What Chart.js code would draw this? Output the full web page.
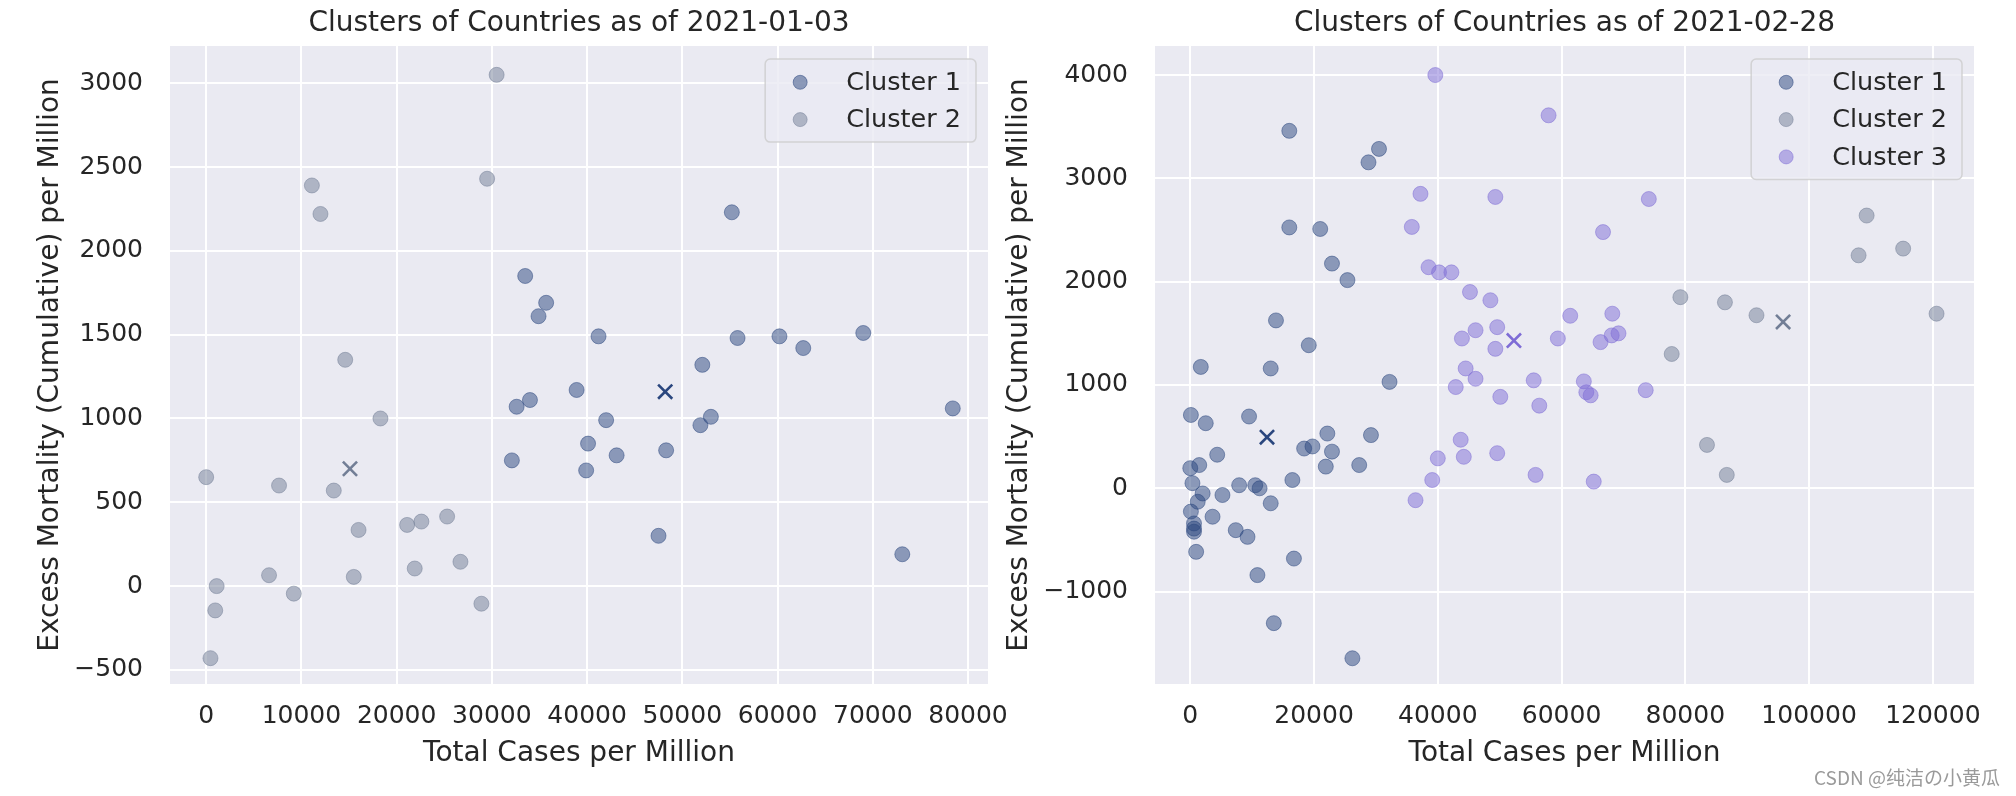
<!DOCTYPE html>
<html>
<head>
<meta charset="utf-8">
<script src="https://cdn.jsdelivr.net/npm/chart.js@4.4.0/dist/chart.umd.min.js"></script>
<style>
body { margin: 0; background: #fff; width: 2016px; height: 796px; position: relative; overflow: hidden; }
#left { position: absolute; left: 0; top: 0; }
#right { position: absolute; left: 1000px; top: 0; }
#mark { position: absolute; right: 16px; top: 763px; font: 19px "Noto Sans CJK SC"; color: #9a9a9a; }
</style>
</head>
<body>
<canvas id="left" width="1016" height="796"></canvas>
<canvas id="right" width="1016" height="796"></canvas>
<div id="mark">CSDN @纯洁の小黄瓜</div>
<script>
// 2021-01-03 clusters
let janC1x = [55200, 33500, 35700, 34900, 41200, 55800, 60200, 62700, 69000, 52100, 38900, 34000, 32600, 78400, 42000, 53000, 51900, 40100, 43100, 48300, 32100, 39900, 47500, 73100];
let janC1y = [2230, 1850, 1690, 1610, 1490, 1480, 1490, 1420, 1510, 1320, 1170, 1110, 1070, 1060, 990, 1010, 960, 850, 780, 810, 750, 690, 300, 190];
let janC2x = [30500, 11100, 12000, 29500, 14600, 18300, 0, 7650, 13400, 16000, 21100, 22600, 25300, 21900, 26700, 6600, 15500, 1100, 9200, 950, 28900, 450];
let janC2y = [3050, 2390, 2220, 2430, 1350, 1000, 650, 600, 570, 335, 365, 385, 415, 105, 145, 65, 55, 0, -45, -145, -105, -430];
let janCentX = [48200, 15100];
let janCentY = [1160, 700];
let janXTicks = [0, 10000, 20000, 30000, 40000, 50000, 60000, 70000, 80000];
let janYTicks = [-500, 0, 500, 1000, 1500, 2000, 2500, 3000];

// 2021-02-28 clusters
let febC1x = [16000, 30500, 28800, 16000, 21000, 22900, 25400, 13850, 19150, 1700, 13000, 32200, 100, 2500, 9500, 22150, 29200, 4350, 18400, 19750, 22900, 0, 1450, 21900, 27300, 350, 7900, 10500, 11200, 16500, 2000, 5200, 1200, 13000, 100, 3600, 600, 600, 600, 7350, 9250, 950, 16750, 10850, 13500, 26200];
let febC1y = [3460, 3285, 3155, 2525, 2510, 2175, 2015, 1625, 1385, 1175, 1160, 1030, 710, 630, 695, 530, 515, 325, 385, 405, 355, 195, 225, 210, 225, 50, 30, 30, 0, 80, -50, -65, -130, -145, -225, -275, -340, -390, -420, -405, -470, -615, -680, -840, -1305, -1645];
let febC2x = [109300, 115200, 108000, 79200, 86400, 91500, 120600, 77800, 83500, 86700];
let febC2y = [2640, 2320, 2255, 1850, 1800, 1675, 1690, 1300, 420, 130];
let febC3x = [39600, 57900, 37200, 49300, 74100, 35800, 66700, 38500, 40200, 42200, 45200, 48500, 61400, 68200, 46100, 49600, 43900, 49300, 59400, 66300, 68100, 69200, 44500, 46100, 42900, 55500, 63600, 64000, 64700, 73600, 50100, 56400, 43700, 40000, 44200, 49600, 39100, 55800, 65200, 36400];
let febC3y = [4000, 3610, 2850, 2820, 2800, 2530, 2480, 2140, 2090, 2090, 1900, 1820, 1670, 1690, 1530, 1560, 1450, 1350, 1450, 1415, 1480, 1500, 1160, 1060, 980, 1045, 1035, 930, 900, 950, 885, 800, 470, 290, 305, 340, 80, 130, 65, -115];
let febCentX = [12400, 95800, 52300];
let febCentY = [495, 1610, 1430];
let febXTicks = [0, 20000, 40000, 60000, 80000, 100000, 120000];
let febYTicks = [-1000, 0, 1000, 2000, 3000, 4000];

let clusterNames = ['Cluster 1', 'Cluster 2', 'Cluster 3'];
let clusterRgb = ['42,70,126', '114,126,150', '126,108,214'];

let textColor = '#262626';
Chart.defaults.font.family = 'DejaVu Sans';
Chart.defaults.font.size = 25;
Chart.defaults.color = textColor;

function toPoints(xs, ys) {
    return xs.map((x, i) => ({x: x, y: ys[i]}));
}

function fmt(v) {
    return v < 0 ? '\u2212' + Math.abs(v) : String(v);
}

let areaBg = {
    id: 'areaBg',
    beforeDraw(chart) {
        let {ctx, chartArea: a} = chart;
        ctx.save();
        ctx.fillStyle = '#EAEAF2';
        ctx.fillRect(a.left, a.top, a.width, a.height);
        ctx.restore();
    }
};

let areaTitle = {
    id: 'areaTitle',
    afterDraw(chart, args, opts) {
        let {ctx, chartArea: a} = chart;
        ctx.save();
        ctx.font = '28px "DejaVu Sans"';
        ctx.fillStyle = textColor;
        ctx.textAlign = 'center';
        ctx.textBaseline = 'middle';
        ctx.fillText(opts.text, (a.left + a.right) / 2, 24);
        ctx.restore();
    }
};

let innerLegend = {
    id: 'innerLegend',
    afterDatasetsDraw(chart) {
        let {ctx, chartArea: a} = chart;
        let sets = chart.data.datasets.filter(d => !d.centroid);
        ctx.save();
        ctx.font = '25.5px "DejaVu Sans"';
        let tw = Math.max(...sets.map(d => ctx.measureText(d.label).width));
        let w = 81 + tw + 15;
        let h = 8.5 + 37.3 * sets.length;
        let x0 = a.right - 12 - w;
        let y0 = a.top + 13;
        ctx.beginPath();
        ctx.roundRect(x0, y0, w, h, 5);
        ctx.fillStyle = 'rgba(234,234,242,0.8)';
        ctx.fill();
        ctx.strokeStyle = 'rgba(204,204,204,0.8)';
        ctx.lineWidth = 1.5;
        ctx.stroke();
        sets.forEach((d, i) => {
            let cy = y0 + 23.3 + 37.3 * i;
            ctx.beginPath();
            ctx.arc(x0 + 35, cy, 7, 0, Math.PI * 2);
            ctx.fillStyle = d.backgroundColor;
            ctx.fill();
            ctx.strokeStyle = d.borderColor;
            ctx.lineWidth = 1;
            ctx.stroke();
            ctx.fillStyle = textColor;
            ctx.textAlign = 'left';
            ctx.textBaseline = 'middle';
            ctx.fillText(d.label, x0 + 81, cy + 1);
        });
        ctx.restore();
    }
};

function makeChart(canvasId, title, clusters, centX, centY, xr, yr, xTicks, yTicks, yAxisW, padRight, yTitlePad) {
    let datasets = clusters.map((c, i) => ({
        label: clusterNames[i],
        data: toPoints(c[0], c[1]),
        backgroundColor: `rgba(${clusterRgb[i]},0.5)`,
        borderColor: `rgba(${clusterRgb[i]},0.5)`,
        borderWidth: 1,
        pointRadius: 7.5
    }));
    clusters.forEach((c, i) => {
        datasets.push({
            label: clusterNames[i] + ' centroid',
            centroid: true,
            data: [{x: centX[i], y: centY[i]}],
            pointStyle: 'crossRot',
            borderColor: `rgb(${clusterRgb[i]})`,
            backgroundColor: `rgb(${clusterRgb[i]})`,
            borderWidth: 2.6,
            pointRadius: 10
        });
    });
    return new Chart(document.getElementById(canvasId), {
        type: 'scatter',
        data: {datasets: datasets},
        plugins: [areaBg, areaTitle, innerLegend],
        options: {
            responsive: false,
            animation: false,
            events: [],
            layout: {padding: {top: 46, right: padRight, bottom: 0, left: 0}},
            plugins: {
                legend: {display: false},
                tooltip: {enabled: false},
                areaTitle: {text: title}
            },
            scales: {
                x: {
                    type: 'linear',
                    min: xr[0], max: xr[1],
                    afterBuildTicks(s) { s.ticks = xTicks.map(v => ({value: v})); },
                    ticks: {padding: 17, callback: fmt, maxRotation: 0, autoSkip: false},
                    grid: {color: '#ffffff', lineWidth: 2, drawTicks: false},
                    border: {display: false},
                    title: {display: true, text: 'Total Cases per Million', font: {size: 28}, padding: {top: 0, bottom: 25}},
                    afterFit(s) { s.height = 112; s.paddingLeft = 0; s.paddingRight = 0; }
                },
                y: {
                    type: 'linear',
                    min: yr[0], max: yr[1],
                    afterBuildTicks(s) { s.ticks = yTicks.map(v => ({value: v})); },
                    ticks: {padding: 27, callback: fmt, autoSkip: false},
                    grid: {color: '#ffffff', lineWidth: 2, drawTicks: false},
                    border: {display: false},
                    title: {display: true, text: 'Excess Mortality (Cumulative) per Million', font: {size: 28}, padding: {top: yTitlePad, bottom: 0}},
                    afterFit(s) { s.width = yAxisW; s.paddingTop = 0; s.paddingBottom = 0; }
                }
            }
        }
    });
}

makeChart('left', 'Clusters of Countries as of 2021-01-03',
    [[janC1x, janC1y], [janC2x, janC2y]], janCentX, janCentY,
    [-3800, 82100], [-584, 3222], janXTicks, janYTicks, 170, 28, 34);

makeChart('right', 'Clusters of Countries as of 2021-02-28',
    [[febC1x, febC1y], [febC2x, febC2y], [febC3x, febC3y]], febCentX, febCentY,
    [-5700, 126650], [-1894, 4281], febXTicks, febYTicks, 155, 42, 3);
</script>
</body>
</html>
